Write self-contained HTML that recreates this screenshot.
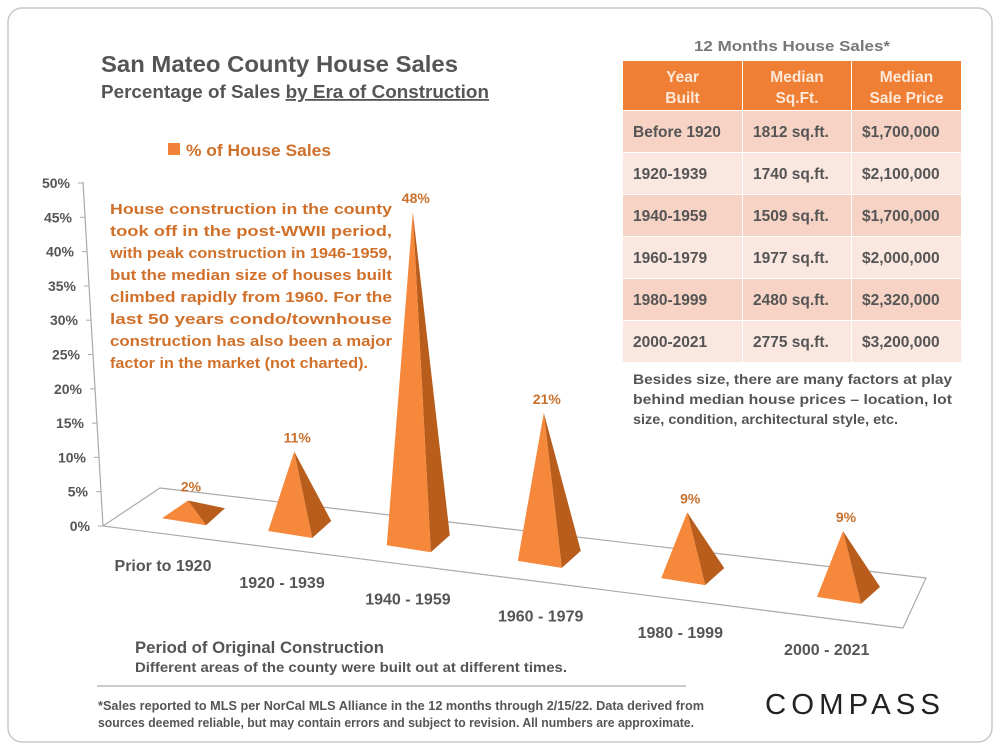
<!DOCTYPE html>
<html><head><meta charset="utf-8"><style>
body{margin:0;background:#fff}
svg{display:block;font-family:"Liberation Sans",sans-serif}
</style></head><body>
<svg id="chart" width="1000" height="750" viewBox="0 0 1000 750" xmlns="http://www.w3.org/2000/svg">
<rect x="8" y="8" width="984" height="734" rx="14" fill="#fff" stroke="#c8c8c8" stroke-width="1.5"/>
<g font-weight="bold" fill="#555">
<text x="101" y="72" font-size="23" textLength="357" lengthAdjust="spacingAndGlyphs">San Mateo County House Sales</text>
<text x="101" y="98" font-size="18" textLength="388" lengthAdjust="spacingAndGlyphs">Percentage of Sales <tspan text-decoration="underline">by Era of Construction</tspan></text>
</g>
<g>
<rect x="168" y="143" width="12" height="12" fill="#f0823a"/>
<text x="186" y="156" font-size="17" font-weight="bold" fill="#d0702a" textLength="145" lengthAdjust="spacingAndGlyphs">% of House Sales</text>
</g>
<g id="note" font-size="15" font-weight="bold" fill="#d0702a">
<text x="110" y="214" textLength="282" lengthAdjust="spacingAndGlyphs">House construction in the county</text>
<text x="110" y="236" textLength="282" lengthAdjust="spacingAndGlyphs">took off in the post-WWII period,</text>
<text x="110" y="258" textLength="282" lengthAdjust="spacingAndGlyphs">with peak construction in 1946-1959,</text>
<text x="110" y="280" textLength="282" lengthAdjust="spacingAndGlyphs">but the median size of houses built</text>
<text x="110" y="302" textLength="282" lengthAdjust="spacingAndGlyphs">climbed rapidly from 1960. For the</text>
<text x="110" y="324" textLength="282" lengthAdjust="spacingAndGlyphs">last 50 years condo/townhouse</text>
<text x="110" y="346" textLength="282" lengthAdjust="spacingAndGlyphs">construction has also been a major</text>
<text x="110" y="368" textLength="258" lengthAdjust="spacingAndGlyphs">factor in the market (not charted).</text>
</g>
<g id="axes"></g>
<g id="marks"></g>
<g id="table"></g>
<text x="792" y="51" font-size="15" font-weight="bold" fill="#777" text-anchor="middle" textLength="196" lengthAdjust="spacingAndGlyphs">12 Months House Sales*</text>
<g font-size="14" font-weight="bold" fill="#555">
<text x="633" y="384" textLength="319" lengthAdjust="spacingAndGlyphs">Besides size, there are many factors at play</text>
<text x="633" y="404" textLength="319" lengthAdjust="spacingAndGlyphs">behind median house prices – location, lot</text>
<text x="633" y="424" textLength="265" lengthAdjust="spacingAndGlyphs">size, condition, architectural style, etc.</text>
</g>
<text x="135" y="653" font-size="17" font-weight="bold" fill="#555" textLength="249" lengthAdjust="spacingAndGlyphs">Period of Original Construction</text>
<text x="135" y="672" font-size="13.5" font-weight="bold" fill="#555" textLength="432" lengthAdjust="spacingAndGlyphs">Different areas of the county were built out at different times.</text>
<line x1="97" y1="686" x2="686" y2="686" stroke="#999" stroke-width="1"/>
<g font-size="12.5" font-weight="bold" fill="#555">
<text x="98" y="710" textLength="606" lengthAdjust="spacingAndGlyphs">*Sales reported to MLS per NorCal MLS Alliance in the 12 months through 2/15/22.  Data derived from</text>
<text x="98" y="727" textLength="596" lengthAdjust="spacingAndGlyphs">sources deemed reliable, but may contain errors and subject to revision. All numbers are approximate.</text>
</g>
<text x="855" y="714" font-size="29" fill="#222" text-anchor="middle" letter-spacing="5" textLength="180" lengthAdjust="spacingAndGlyphs">COMPASS</text>
</svg>
<script>
const categories=["Prior to 1920","1920 - 1939","1940 - 1959","1960 - 1979","1980 - 1999","2000 - 2021"];
const salesPct=[2,11,48,21,9,9];
const valueLabels=["2%","11%","48%","21%","9%","9%"];
const yTicks=[0,5,10,15,20,25,30,35,40,45,50];
const tableYears=["Before 1920","1920-1939","1940-1959","1960-1979","1980-1999","2000-2021"];
const tableSqft=["1812 sq.ft.","1740 sq.ft.","1509 sq.ft.","1977 sq.ft.","2480 sq.ft.","2775 sq.ft."];
const tablePrice=["$1,700,000","$2,100,000","$1,700,000","$2,000,000","$2,320,000","$3,200,000"];

const NS="http://www.w3.org/2000/svg";
function mk(tag,attrs,parent){const e=document.createElementNS(NS,tag);for(const k in attrs)e.setAttribute(k,attrs[k]);parent.appendChild(e);return e;}
const yScale=v=>v*343/50;
const xScale=i=>188+i*100+i*i*6.2;
const baseY=x=>514+(x-186)*0.12;
const labelX=i=>163+i*115.6+i*i*3.43;

const axes=document.getElementById('axes');
const floor=mk('polygon',{points:"103,526 160,488 926,578 903,628",fill:"none",stroke:"#aaa","stroke-width":1.2},axes);


const yAxis=mk('line',{x1:83,y1:182,x2:103,y2:526,stroke:"#aaa","stroke-width":1.2},axes);


yTicks.forEach(t=>{
  const y=526-yScale(t);
  const x=103-20*(t/50);
  mk('line',{x1:x-5,y1:y,x2:x,y2:y,stroke:"#aaa"},axes);
  const tx=mk('text',{x:x-13,y:y+5,"font-size":14,"font-weight":"bold",fill:"#555","text-anchor":"end"},axes);
  tx.textContent=t+"%";
  
  
});
categories.forEach((c,i)=>{
  const lx=labelX(i);
  const tx=mk('text',{x:lx,y:571+i*16.8,"font-size":16,"font-weight":"bold",fill:"#555","text-anchor":"middle"},axes);
  tx.textContent=c;
  
  
});

const marks=document.getElementById('marks');
salesPct.forEach((v,i)=>{
  const cx=xScale(i), cy=baseY(cx), h=yScale(v);
  const ax=cx, ay=cy-h;
  const g=mk('g',{},marks);
  
  
  const fl=[cx-26,cy+4], fr=[cx+18,cy+11], br=[cx+37,cy-6];
  mk('polygon',{points:`${ax},${ay} ${fr[0]},${fr[1]} ${br[0]},${br[1]}`,fill:"#b85d1c"},g);
  mk('polygon',{points:`${ax},${ay} ${fl[0]},${fl[1]} ${fr[0]},${fr[1]}`,fill:"#f5883b"},g);
  const lab=mk('text',{x:ax+3,y:ay-9,"font-size":14,"font-weight":"bold",fill:"#c8702c","text-anchor":"middle"},marks);
  lab.textContent=valueLabels[i];
  
  
});

const tbl=document.getElementById('table');
const cols=[[623,119],[743,108],[852,109]];
const hdr=[["Year","Built"],["Median","Sq.Ft."],["Median","Sale Price"]];
cols.forEach((c,j)=>{
  mk('rect',{x:c[0],y:61,width:c[1],height:49,fill:"#ef7f35"},tbl);
  hdr[j].forEach((s,k)=>{const t=mk('text',{x:c[0]+c[1]/2,y:82+k*21,"font-size":15.5,"font-weight":"bold",fill:"#fde9da","text-anchor":"middle"},tbl);t.textContent=s;});
});
tableYears.forEach((yr,r)=>{
  const y=111+r*42;
  const vals=[yr,tableSqft[r],tablePrice[r]];
  cols.forEach((c,j)=>{
    mk('rect',{x:c[0],y:y,width:c[1],height:41,fill:r%2?"#fae7df":"#f6d3c5"},tbl);
    const t=mk('text',{x:c[0]+10,y:y+26,"font-size":15.5,"font-weight":"bold",fill:"#555"},tbl);
    t.textContent=vals[j];
  });
});
</script>
</body></html>
